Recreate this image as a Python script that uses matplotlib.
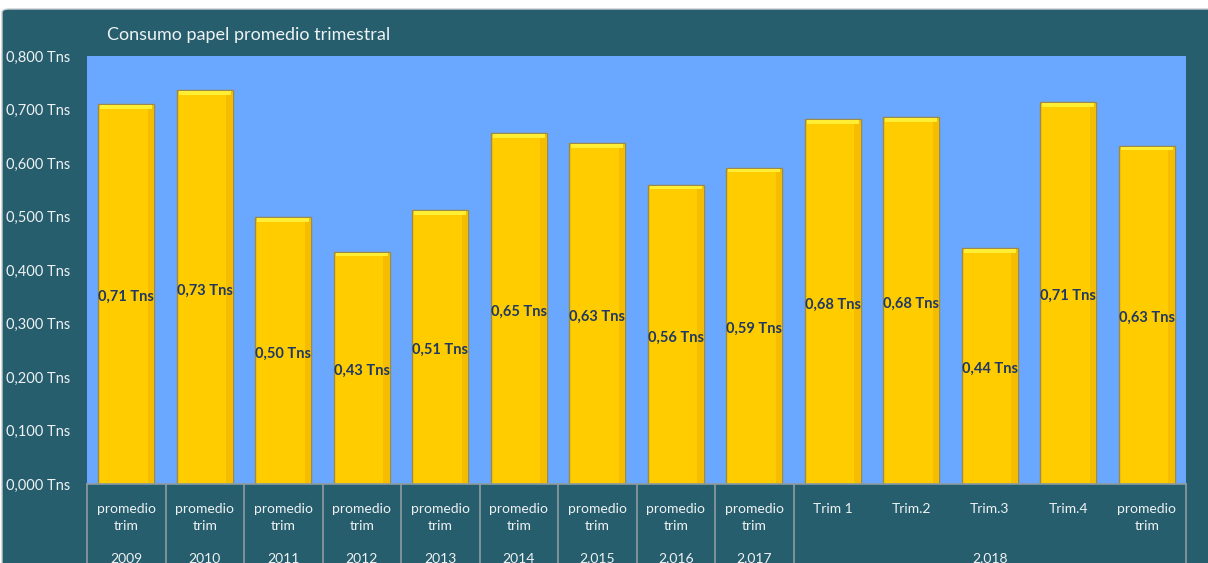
import matplotlib
matplotlib.use("Agg")
import matplotlib.pyplot as plt
from matplotlib.patches import FancyBboxPatch
from matplotlib.ticker import FuncFormatter, MultipleLocator

# ---- data ----
cat_top = ["promedio\ntrim"] * 9 + ["Trim 1", "Trim.2", "Trim.3", "Trim.4", "promedio\ntrim"]
years = ["2009", "2010", "2011", "2012", "2013", "2014", "2.015", "2.016", "2.017", "2.018"]
year_span = [1, 1, 1, 1, 1, 1, 1, 1, 1, 5]
values = [0.710, 0.736, 0.499, 0.434, 0.512, 0.656, 0.637, 0.559, 0.591,
          0.682, 0.686, 0.441, 0.714, 0.632]
value_labels = ["0,71 Tns", "0,73 Tns", "0,50 Tns", "0,43 Tns", "0,51 Tns", "0,65 Tns",
                "0,63 Tns", "0,56 Tns", "0,59 Tns", "0,68 Tns", "0,68 Tns", "0,44 Tns",
                "0,71 Tns", "0,63 Tns"]
title = "Consumo papel promedio trimestral"

TEAL = "#275E6E"
BLUE = "#6AA8FF"
GOLD = "#FFCC00"
NAVY = "#1F3864"
TXT = "#EEF2F3"
LINE = "#8C9BA0"

plt.rcParams['font.family'] = ['Lato', 'DejaVu Sans']

W, H = 1208, 563
fig = plt.figure(figsize=(W / 100, H / 100), dpi=100, facecolor="white")

# outer chart frame
frame = FancyBboxPatch((2 / W, -0.05), (W + 20) / W, (H - 9) / H + 0.05,
                       boxstyle="round,pad=0,rounding_size=0.006",
                       transform=fig.transFigure, facecolor=TEAL,
                       edgecolor="#C8CDD0", linewidth=1.0, zorder=-10)
fig.patches.append(frame)

L, R, T, B = 87, 1186, 56, 484
ax = fig.add_axes([L / W, (H - B) / H, (R - L) / W, (B - T) / H])
ax.set_zorder(2)
ax.set_facecolor(BLUE)
for s in ax.spines.values():
    s.set_visible(False)

n = len(values)
x = list(range(n))
bw = 0.71
ax.bar(x, values, width=bw, color=GOLD, edgecolor="#9C8A4A", linewidth=1.0, zorder=3)
# subtle right-side shading and top highlight
ax.bar([xi + bw / 2 - 0.045 for xi in x], [v - 0.004 for v in values], width=0.07,
       color="#F5BC00", linewidth=0, zorder=3.5)
ax.bar(x, [0.007] * n, bottom=[v - 0.0085 for v in values], width=bw - 0.05,
       color="#FFEE33", linewidth=0, zorder=4)

for xi, v, lab in zip(x, values, value_labels):
    ax.text(xi, v / 2 - 0.006, lab, ha="center", va="center", fontsize=10.5,
            fontweight="bold", color=NAVY, zorder=5)

ax.set_xlim(-0.5, n - 0.5)
ax.set_ylim(0, 0.8)
ax.yaxis.set_major_locator(MultipleLocator(0.1))
ax.yaxis.set_major_formatter(FuncFormatter(lambda v, p: f"{v:.3f}".replace(".", ",") + " Tns"))
ax.tick_params(axis="y", length=0, labelsize=10.5, labelcolor=TXT, pad=12)
ax.set_xticks([])

# category axis boxes below the plot
tr = ax.get_xaxis_transform()
ax.plot([-0.5, n - 0.5], [0, 0], transform=tr, color=LINE, lw=1.2, clip_on=False, zorder=6)
bounds = [-0.5]
pos = -0.5
for sp in year_span:
    pos += sp
    bounds.append(pos)
for b in bounds:
    ax.plot([b, b], [0, -0.25], transform=tr, color=LINE, lw=1.2, clip_on=False, zorder=6)

for xi, lab in zip(x, cat_top):
    ax.text(xi, -0.044, lab, transform=tr, ha="center", va="top", fontsize=10,
            color=TXT, linespacing=1.55)

start = -0.5
for yr, sp in zip(years, year_span):
    ax.text(start + sp / 2, -0.162, yr, transform=tr, ha="center", va="top",
            fontsize=10, color=TXT)
    start += sp

fig.text(107 / W, 1 - 35 / H, title, ha="left", va="center", fontsize=13, color=TXT)

fig.savefig("out.png", dpi=100, facecolor=fig.get_facecolor())
